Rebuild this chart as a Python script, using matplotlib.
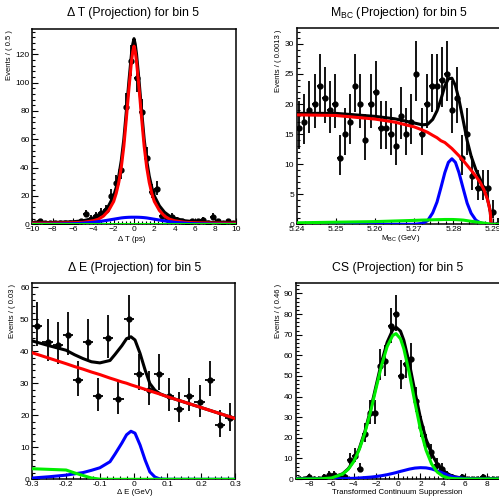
import numpy as np
import matplotlib.pyplot as plt
from matplotlib.ticker import MultipleLocator

plt.rcParams['font.family'] = ['Liberation Sans', 'DejaVu Sans']

# ---- Delta T (40 bins of 0.5 ps) ----
dt_counts = [1, 2, 1, 1, 1, 1, 1, 1, 1, 2, 7, 4, 6, 8, 10, 20, 29, 38, 83, 115,
             103, 79, 47, 23, 25, 6, 4, 5, 3, 2, 1, 2, 2, 3, 1, 5, 2, 1, 2, 1]
dt_x = [-10, -8, -6, -5, -4, -3.5, -3, -2.5, -2, -1.75, -1.5, -1.25, -1, -0.75, -0.5, -0.25, -0.125, 0,
        0.125, 0.25, 0.5, 0.75, 1, 1.25, 1.5, 1.75, 2, 2.5, 3, 3.5, 4, 5, 6, 8, 10]
dt_total = [1.1, 1.3, 1.8, 2.5, 4.2, 5.8, 8.5, 13, 20, 26, 34, 45, 60, 80, 101, 120, 127, 131,
            127, 120, 101, 80, 60, 45, 34, 26, 20, 13, 8.5, 5.8, 4.2, 2.5, 1.8, 1.3, 1.1]
dt_red = [0.75, 0.85, 1.1, 1.4, 2.5, 3.6, 5.8, 9.7, 16.1, 21.8, 29.5, 40.2, 55, 74.8, 95.7, 114.7, 121.7, 125.7,
          121.7, 114.7, 95.7, 74.8, 55, 40.2, 29.5, 21.8, 16.1, 9.7, 5.8, 3.6, 2.5, 1.4, 1.1, 0.85, 0.75]
dt_blue = [0.05, 0.15, 0.4, 0.8, 1.4, 1.9, 2.4, 3.0, 3.6, 3.9, 4.2, 4.5, 4.7, 4.85, 4.95, 5.0, 5.0, 5.0,
           5.0, 5.0, 4.95, 4.85, 4.7, 4.5, 4.2, 3.9, 3.6, 3.0, 2.4, 1.9, 1.4, 0.8, 0.4, 0.15, 0.05]
dt_green_x = [-10, 10]
dt_green = [0.3, 0.3]

# ---- M_BC (40 bins of 0.0013 GeV) ----
mbc_counts = [16, 17, 19, 20, 23, 21, 19, 20, 11, 15, 17, 23, 20, 14, 20, 22, 16, 16, 15, 13,
              18, 15, 17, 25, 15, 20, 23, 23, 24, 25, 19, 21, 11, 15, 8, 6, 6, 6, 2, 0]
mbc_x = [5.2400, 5.2500, 5.2600, 5.2650, 5.2700, 5.2720, 5.2734, 5.2747, 5.2758, 5.2768, 5.2778, 5.2787, 5.2796,
         5.2805, 5.2814, 5.2825, 5.2835, 5.2845, 5.2857, 5.2868, 5.2878, 5.2886, 5.2891, 5.2894, 5.2896, 5.2920]
mbc_total = [18.45, 18.45, 17.95, 17.55, 16.85, 16.55, 16.62, 17.45, 18.87, 20.78, 23.0, 24.2, 24.3,
             23.08, 20.75, 17.2, 13.9, 11.35, 9.1, 7.54, 5.95, 4.42, 3.06, 2.03, 0.0, 0.0]
mbc_red = [18.2, 18.1, 17.5, 17.0, 16.2, 15.7, 15.3, 14.8, 14.4, 13.9, 13.6, 13.1, 12.6,
           12.0, 11.4, 10.6, 9.8, 9.0, 8.0, 7.0, 5.7, 4.3, 3.0, 2.0, 0.0, 0.0]
mbc_blue = [0, 0, 0, 0, 0, 0.15, 0.6, 1.9, 3.7, 6.1, 8.6, 10.3, 10.9,
            10.3, 8.6, 5.9, 3.5, 1.85, 0.7, 0.24, 0.05, 0, 0, 0, 0, 0]
mbc_green = [0.25, 0.35, 0.45, 0.55, 0.65, 0.7, 0.72, 0.75, 0.77, 0.78, 0.8, 0.8, 0.8,
             0.78, 0.75, 0.7, 0.6, 0.5, 0.4, 0.3, 0.2, 0.12, 0.06, 0.03, 0.0, 0.0]

# ---- Delta E (20 bins of 0.03 GeV) ----
de_counts = [48, 43, 42, 45, 31, 43, 26, 44, 25, 50, 33, 28, 33, 26, 22, 26, 24, 31, 17, 19]
de_x = [-0.3, -0.25, -0.2, -0.175, -0.15, -0.125, -0.1, -0.07, -0.055, -0.035, -0.021, -0.008,
        0.004, 0.019, 0.034, 0.048, 0.063, 0.078, 0.1, 0.2, 0.3]
de_total = [43.2, 41.7, 40.3, 38.9, 37.7, 36.7, 36.35, 37.1, 39.0, 41.7, 43.9, 44.5,
            43.5, 39.3, 34.1, 29.9, 27.8, 26.7, 25.8, 22.4, 19.0]
de_red = [39.5, 37.8, 36.1, 35.2, 34.4, 33.5, 32.7, 31.6, 31.1, 30.4, 30.0, 29.5,
          29.1, 28.6, 28.1, 27.6, 27.1, 26.6, 25.8, 22.4, 19.0]
de_blue = [0.4, 0.8, 1.3, 1.7, 2.1, 2.8, 3.6, 5.5, 7.9, 11.3, 13.9, 15.0,
           14.4, 10.7, 6.0, 2.3, 0.7, 0.1, 0.0, 0.0, 0.0]
de_green = [3.3, 3.1, 2.9, 2.0, 1.2, 0.4, 0.05, 0, 0, 0, 0, 0,
            0, 0, 0, 0, 0, 0, 0, 0, 0]

# ---- CS (40 bins of 0.46) ----
cs_counts = [0, 0, 1, 0, 0, 1, 2, 2, 1, 1, 9, 11, 5, 22, 32, 32, 55, 57, 74, 80,
             50, 56, 58, 38, 25, 17, 13, 7, 5, 2, 1, 0, 1, 0, 0, 0, 1, 0, 0, 0]
cs_x = [-9.2, -7, -6, -5, -4.5, -4, -3.5, -3, -2.5, -2, -1.5, -1, -0.5, -0.2,
        0.2, 0.5, 1, 1.5, 2, 2.5, 3, 3.5, 4, 4.5, 5, 6, 7, 9.2]
cs_total = [0, 0.1, 0.57, 2.55, 4.95, 8.85, 14.9, 23.1, 33.4, 45.1, 56.7, 66.3, 72.3, 73.6,
            71.7, 67.3, 56.0, 42.4, 29.5, 19.4, 12.2, 7.4, 4.3, 2.3, 1.17, 0.21, 0.03, 0]
cs_green = [0, 0.08, 0.52, 2.4, 4.7, 8.5, 14.4, 22.4, 32.5, 43.9, 55.1, 64.2, 69.6, 70.5,
            68.0, 63.2, 51.2, 37.1, 24.0, 14.0, 7.3, 3.4, 1.4, 0.5, 0.17, 0.01, 0, 0]
cs_blue = [0, 0.02, 0.05, 0.15, 0.25, 0.35, 0.5, 0.7, 0.9, 1.2, 1.6, 2.1, 2.7, 3.1,
           3.7, 4.1, 4.8, 5.3, 5.5, 5.4, 4.9, 4.0, 2.9, 1.8, 1.0, 0.2, 0.03, 0]

W, H = 499, 497
fig = plt.figure(figsize=(W / 100, H / 100), dpi=100)


def add_ax(left, top, right, bottom):
    return fig.add_axes([left / W, 1 - bottom / H, (right - left) / W, (bottom - top) / H])


def draw_panel(ax, counts, lo, hi, curves, ylim, xmaj, xmin, ymaj, ymin, xfmt=None):
    counts = np.array(counts, dtype=float)
    n = len(counts)
    width = (hi - lo) / n
    centers = lo + width * (np.arange(n) + 0.5)
    # approximate Poisson intervals
    s = np.sqrt(counts + 0.25)
    err_lo = s - 0.5
    err_hi = s + 0.5
    ax.errorbar(centers, counts, xerr=width / 2, yerr=[err_lo, err_hi], fmt='o', color='black',
                ms=3.5, elinewidth=1.3, capsize=0, zorder=2)
    for x, y, c in curves:
        ax.plot(x, y, color=c, lw=2.2, zorder=3, solid_joinstyle='round')
    ax.set_xlim(lo, hi)
    ax.set_ylim(*ylim)
    ax.xaxis.set_major_locator(MultipleLocator(xmaj))
    ax.xaxis.set_minor_locator(MultipleLocator(xmin))
    ax.yaxis.set_major_locator(MultipleLocator(ymaj))
    ax.yaxis.set_minor_locator(MultipleLocator(ymin))
    ax.tick_params(which='both', direction='in', top=False, right=False, labelsize=6, pad=1.2,
                   width=0.8, colors='black')
    ax.tick_params(axis='y', pad=2.0)
    ax.tick_params(which='major', length=4.3)
    ax.tick_params(which='minor', length=2.2)
    for sp in ax.spines.values():
        sp.set_linewidth(1.1)
    if xfmt is not None:
        ax.xaxis.set_major_formatter(xfmt)


ax1 = add_ax(32.3, 29, 235.7, 224.3)
draw_panel(ax1, dt_counts, -10, 10,
           [(dt_x, dt_total, 'black'), (dt_x, dt_red, 'red'), (dt_x, dt_blue, 'blue'),
            (dt_green_x, dt_green, '#00ee00')],
           (0, 137.8), 2, 0.4, 20, 4)

ax2 = add_ax(296.7, 28.3, 500.5, 224.3)
draw_panel(ax2, mbc_counts, 5.24, 5.292,
           [(mbc_x, mbc_total, 'black'), (mbc_x, mbc_red, 'red'), (mbc_x, mbc_blue, 'blue'),
            (mbc_x, mbc_green, '#00ee00')],
           (0, 32.6), 0.01, 0.002, 5, 1,
           xfmt=plt.FuncFormatter(lambda v, p: f"{v:.2f}"))

ax3 = add_ax(32.3, 283.3, 235.0, 479.3)
draw_panel(ax3, de_counts, -0.3, 0.3,
           [(de_x, de_total, 'black'), (de_x, de_red, 'red'), (de_x, de_blue, 'blue'),
            (de_x, de_green, '#00ee00')],
           (0, 61.2), 0.1, 0.02, 10, 2,
           xfmt=plt.FuncFormatter(lambda v, p: "0" if abs(v) < 1e-9 else f"{v:.1f}"))

ax4 = add_ax(296.0, 283.3, 500.5, 479.0)
draw_panel(ax4, cs_counts, -9.2, 9.2,
           [(cs_x, cs_total, 'black'), (cs_x, cs_blue, 'blue'), (cs_x, cs_green, '#00ee00')],
           (0, 94.9), 2, 0.4, 10, 2)


# titles and axis titles (ROOT style)
def ftext(x, y, s, **kw):
    fig.text(x / W, 1 - y / H, s, **kw)


ftext(133, 13, "Δ T (Projection) for bin 5", ha='center', va='center', fontsize=8.8)
ftext(399, 13, r"M$_\mathregular{BC}$ (Projection) for bin 5", ha='center', va='center', fontsize=8.8)
ftext(135, 268, "Δ E (Projection) for bin 5", ha='center', va='center', fontsize=8.8)
ftext(398, 268, "CS (Projection) for bin 5", ha='center', va='center', fontsize=8.8)

ftext(132, 239.5, "Δ T (ps)", ha='center', va='center', fontsize=5.7)
ftext(401, 239, r"M$_\mathregular{BC}$ (GeV)", ha='center', va='center', fontsize=5.7)
ftext(135, 492, "Δ E (GeV)", ha='center', va='center', fontsize=5.7)
ftext(397, 493, "Transformed Continuum Suppression", ha='center', va='center', fontsize=5.7)

ftext(10, 30, "Events / ( 0.5 )", rotation=90, ha='center', va='top', fontsize=5.5)
ftext(278, 30, "Events / ( 0.0013 )", rotation=90, ha='center', va='top', fontsize=5.5)
ftext(13, 284, "Events / ( 0.03 )", rotation=90, ha='center', va='top', fontsize=5.5)
ftext(279, 284, "Events / ( 0.46 )", rotation=90, ha='center', va='top', fontsize=5.5)

fig.savefig("out.png", dpi=100)
